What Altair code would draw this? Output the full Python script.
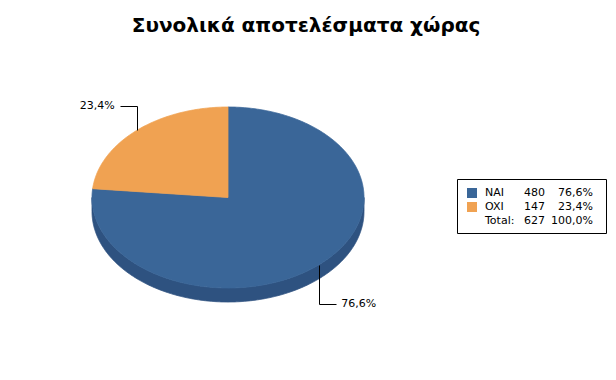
import math
import altair as alt
import pandas as pd

# ---- data ----
title_text = "Συνολικά αποτελέσματα χώρας"
categories = ["NAI", "OXI"]
counts = [480, 147]
total_label = "Total:"

# ---- style / layout ----
top_colors = ["#3A6698", "#F0A252"]
side_colors = ["#2E5280", "#C98440"]
W, H = 616, 380
CX, CY, RX, RY, DEPTH = 228, 197.5, 136, 90.5, 14
FONT = "DejaVu Sans"

total = sum(counts)
shares = [c / total for c in counts]


def fmt_pct(v):
    return f"{v * 100:.1f}".replace(".", ",") + "%"


def ell(theta_deg, dy=0.0):
    t = math.radians(theta_deg)
    return CX + RX * math.sin(t), CY - RY * math.cos(t) + dy


top_rows, side_rows, leader_rows, label_rows = [], [], [], []
start = 0.0
for i, (cat, s) in enumerate(zip(categories, shares)):
    end = start + s * 360
    # top face wedge
    n = max(2, int((end - start) / 0.5))
    pts = [(CX, CY)] + [ell(start + (end - start) * k / n) for k in range(n + 1)] + [(CX, CY)]
    for j, (x, y) in enumerate(pts):
        top_rows.append(dict(part=cat, x=x, y=y, o=j))
    # visible side wall (front half: 90..270 deg)
    a, b = max(start, 90.0), min(end, 270.0)
    if b > a:
        m = max(2, int((b - a) / 0.5))
        front = [ell(a + (b - a) * k / m) for k in range(m + 1)]
        back = [ell(a + (b - a) * k / m, DEPTH) for k in range(m, -1, -1)]
        poly = front + back + [front[0]]
        for j, (x, y) in enumerate(poly):
            side_rows.append(dict(part=cat, x=x, y=y, o=j))
    # leader line from the wedge's mid point
    mid = (start + end) / 2
    mx, my = ell(mid)
    right = math.sin(math.radians(mid)) >= 0
    upper = math.cos(math.radians(mid)) > 0
    ly = CY - RY - 1.5 if upper else CY + RY + DEPTH + 2
    hx = mx + 17 if right else mx - 17
    for j, (x, y) in enumerate([(mx, my), (mx, ly), (hx, ly)]):
        leader_rows.append(dict(part=cat, x=round(x) + 0.5, y=round(y) + 0.5, o=j))
    label_rows.append(dict(part=cat, x=hx + (5 if right else -5), y=ly,
                           text=fmt_pct(s), align="left" if right else "right"))
    start = end

top_df = pd.DataFrame(top_rows)
side_df = pd.DataFrame(side_rows)
leader_df = pd.DataFrame(leader_rows)
label_df = pd.DataFrame(label_rows)

xs = alt.Scale(domain=[0, W], nice=False, zero=False)
ys = alt.Scale(domain=[0, H], nice=False, zero=False, reverse=True)
X = lambda f="x": alt.X(f + ":Q", scale=xs, axis=None)
Y = lambda f="y": alt.Y(f + ":Q", scale=ys, axis=None)

side = alt.Chart(side_df).mark_line(strokeWidth=0.8).encode(
    x=X(), y=Y(), order="o:Q", detail="part:N",
    fill=alt.Fill("part:N", scale=alt.Scale(domain=categories, range=side_colors), legend=None),
    stroke=alt.Stroke("part:N", scale=alt.Scale(domain=categories, range=side_colors), legend=None),
)
top = alt.Chart(top_df).mark_line(strokeWidth=0.8).encode(
    x=X(), y=Y(), order="o:Q", detail="part:N",
    fill=alt.Fill("part:N", scale=alt.Scale(domain=categories, range=top_colors), legend=None),
    stroke=alt.Stroke("part:N", scale=alt.Scale(domain=categories, range=top_colors), legend=None),
)
leaders = alt.Chart(leader_df).mark_line(color="black", strokeWidth=1).encode(
    x=X(), y=Y(), order="o:Q", detail="part:N"
)
labels_l = alt.Chart(label_df[label_df["align"] == "left"]).mark_text(
    align="left", baseline="middle", font=FONT, fontSize=11, color="black"
).encode(x=X(), y=Y(), text="text:N")
labels_r = alt.Chart(label_df[label_df["align"] == "right"]).mark_text(
    align="right", baseline="middle", font=FONT, fontSize=11, color="black"
).encode(x=X(), y=Y(), text="text:N")

# title
title_df = pd.DataFrame([dict(x=306, y=32, text=title_text)])
title = alt.Chart(title_df).mark_text(
    align="center", baseline="alphabetic", font=FONT, fontSize=20, fontWeight="bold", color="black"
).encode(x=X(), y=Y(), text="text:N")

# legend box
LX0, LY0, LX1, LY1 = 457, 179.5, 606, 233.5
box_df = pd.DataFrame([dict(x=LX0 + 0.5, y=LY0, x2=LX1 + 0.5, y2=LY1)])
box = alt.Chart(box_df).mark_rect(fill="white", stroke="black", strokeWidth=1).encode(
    x=X(), y=Y(), x2="x2:Q", y2="y2:Q"
)
ROW0, ROWH = 193, 14
leg_rows = []
for i, (cat, c, s) in enumerate(zip(categories, counts, shares)):
    leg_rows.append(dict(part=cat, name=cat, cnt=str(c), pct=fmt_pct(s), y=ROW0 + i * ROWH,
                         sx=467, sx2=477, sy=ROW0 + i * ROWH - 5, sy2=ROW0 + i * ROWH + 5))
leg_df = pd.DataFrame(leg_rows)
tot_df = pd.DataFrame([dict(name=total_label, cnt=str(total), pct=fmt_pct(1.0),
                            y=ROW0 + len(categories) * ROWH)])
all_leg = pd.concat([leg_df[["name", "cnt", "pct", "y"]], tot_df], ignore_index=True)

swatch = alt.Chart(leg_df).mark_rect().encode(
    x=X("sx"), x2="sx2:Q", y=Y("sy"), y2="sy2:Q",
    color=alt.Color("part:N", scale=alt.Scale(domain=categories, range=top_colors), legend=None),
)
txt = dict(baseline="middle", font=FONT, fontSize=11, color="black")
leg_name = alt.Chart(all_leg).mark_text(align="left", **txt).encode(
    x=alt.value(485), y=Y(), text="name:N")
leg_cnt = alt.Chart(all_leg).mark_text(align="right", **txt).encode(
    x=alt.value(545), y=Y(), text="cnt:N")
leg_pct = alt.Chart(all_leg).mark_text(align="right", **txt).encode(
    x=alt.value(593), y=Y(), text="pct:N")

chart = alt.layer(
    side, top, leaders, labels_l, labels_r, title, box, swatch, leg_name, leg_cnt, leg_pct
).resolve_scale(
    fill="independent", stroke="independent", color="independent"
).properties(
    width=W, height=H, padding=0, autosize=alt.AutoSizeParams(type="none"), background="white"
).configure_view(stroke=None)

chart.save("out.html", embed_options={"renderer": "svg", "actions": False})
